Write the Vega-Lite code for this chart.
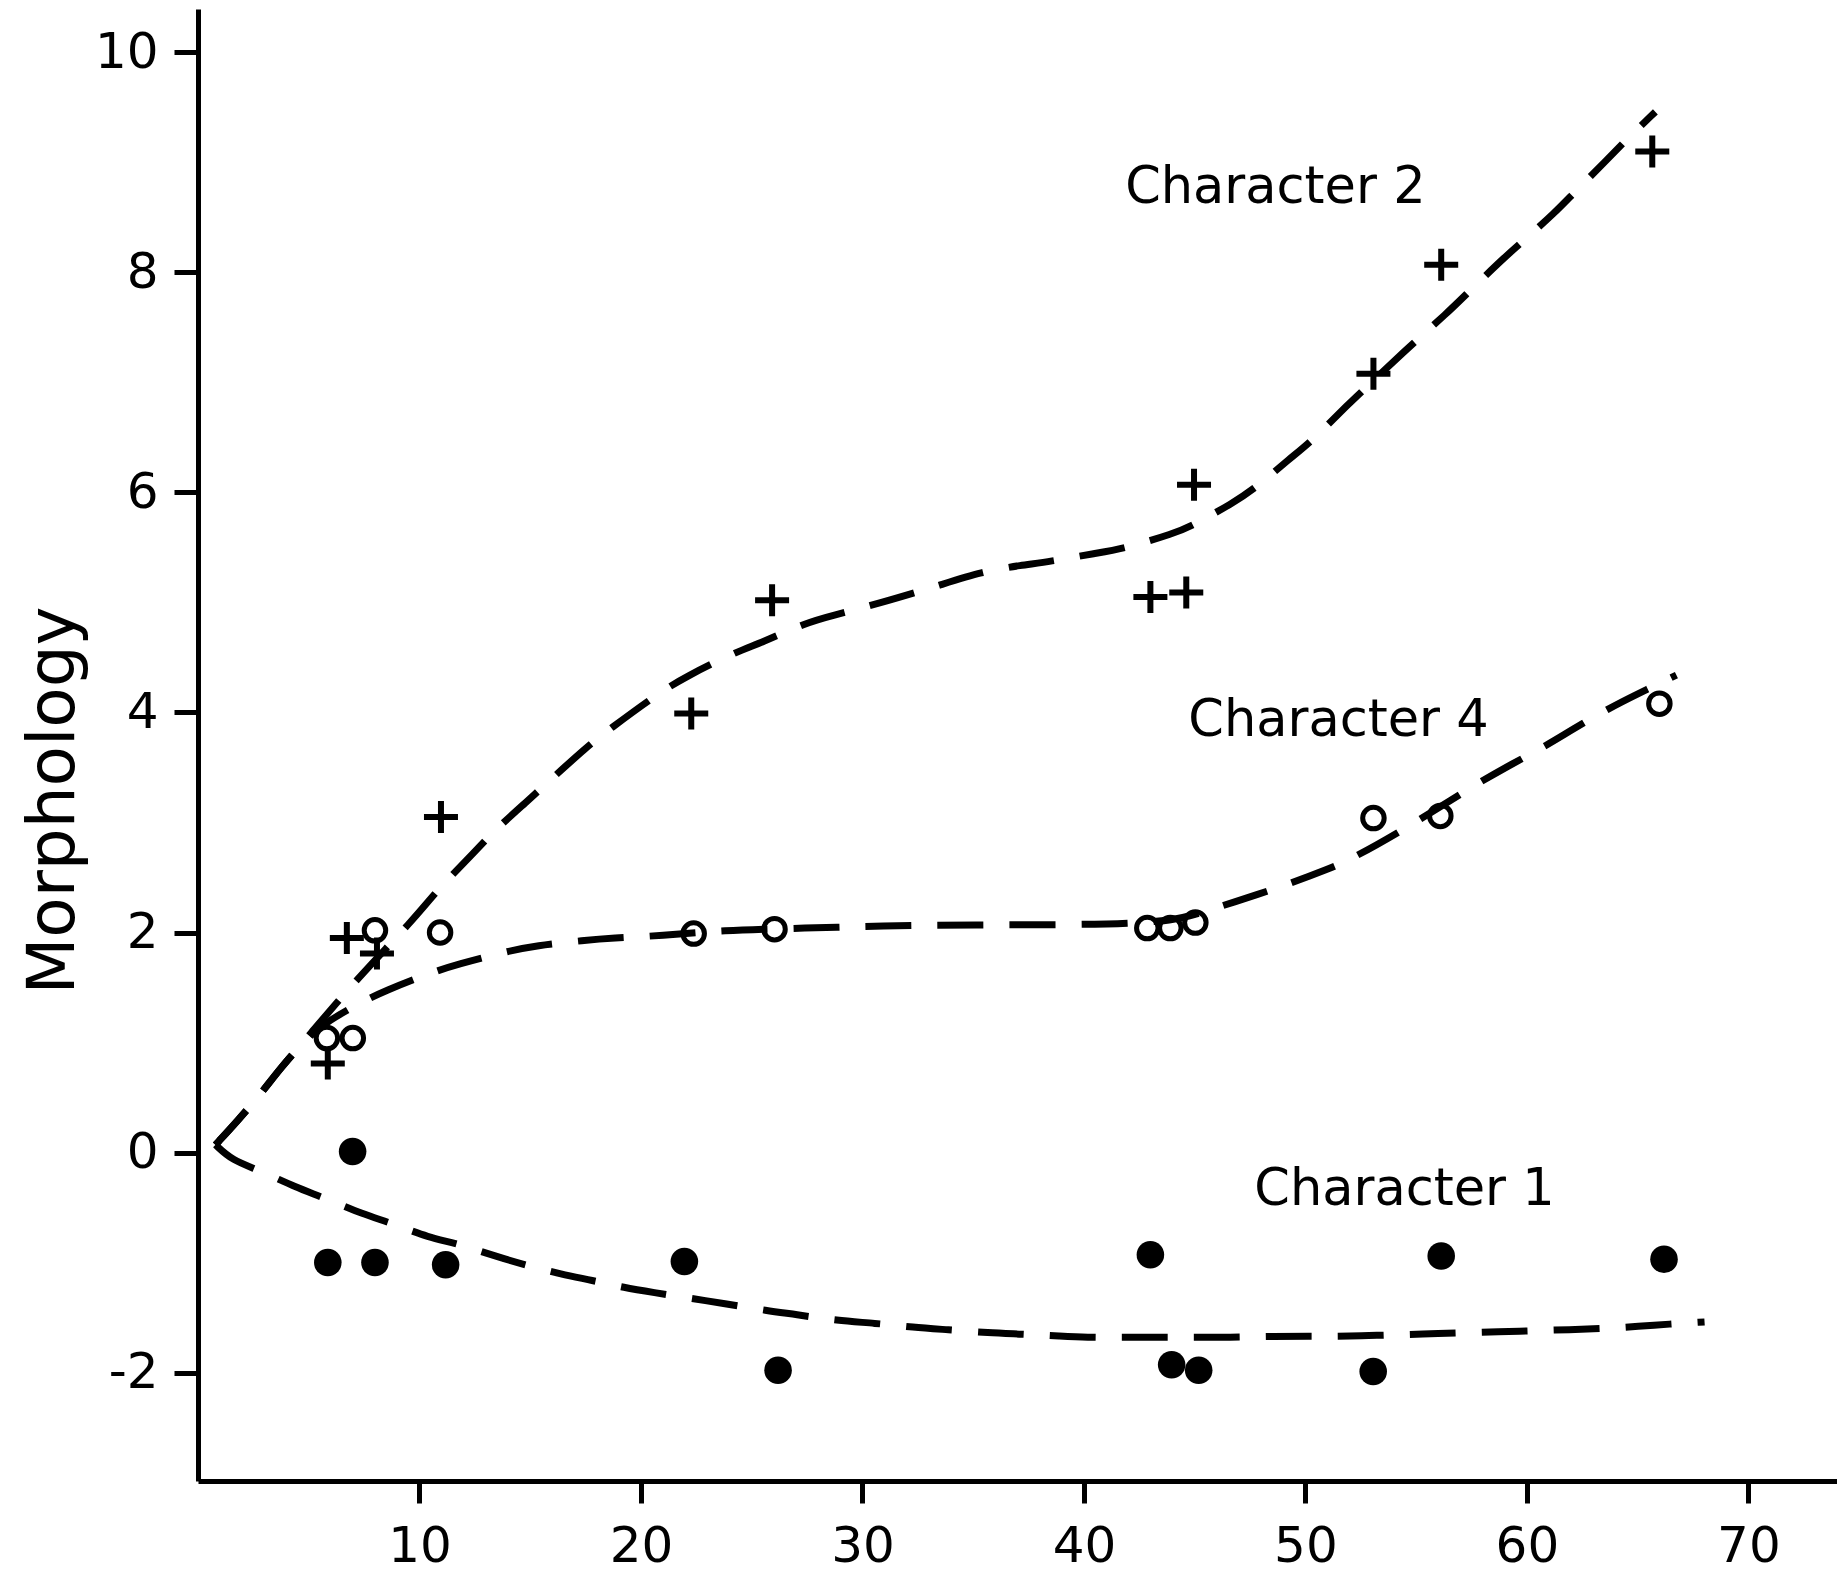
{
  "$schema": "https://vega.github.io/schema/vega-lite/v6.json",
  "autosize": {"type": "none"},
  "padding": {"left": 198, "top": 9, "right": 0, "bottom": 97},
  "width": 1639,
  "height": 1472,
  "background": "white",
  "config": {
    "view": {"stroke": null},
    "font": "DejaVu Sans",
    "axis": {
      "grid": false,
      "domainColor": "black",
      "domainWidth": 5,
      "tickColor": "black",
      "tickWidth": 5,
      "labelColor": "black",
      "labelFont": "DejaVu Sans",
      "labelFontSize": 50,
      "labelFontWeight": "normal",
      "titleColor": "black",
      "titleFont": "DejaVu Sans",
      "titleFontWeight": "normal"
    }
  },
  "datasets": {
    "curves": [
      {"curve": "Character 2", "x": 0.79, "y": 0.07},
      {"curve": "Character 2", "x": 1.8, "y": 0.29},
      {"curve": "Character 2", "x": 2.9, "y": 0.55},
      {"curve": "Character 2", "x": 3.69, "y": 0.76},
      {"curve": "Character 2", "x": 5.0, "y": 1.06},
      {"curve": "Character 2", "x": 7.04, "y": 1.55},
      {"curve": "Character 2", "x": 9.75, "y": 2.12},
      {"curve": "Character 2", "x": 10.77, "y": 2.38},
      {"curve": "Character 2", "x": 12.58, "y": 2.75},
      {"curve": "Character 2", "x": 13.29, "y": 2.91},
      {"curve": "Character 2", "x": 14.9, "y": 3.2},
      {"curve": "Character 2", "x": 15.71, "y": 3.35},
      {"curve": "Character 2", "x": 17.62, "y": 3.7},
      {"curve": "Character 2", "x": 18.53, "y": 3.84},
      {"curve": "Character 2", "x": 20.75, "y": 4.17},
      {"curve": "Character 2", "x": 22.06, "y": 4.33},
      {"curve": "Character 2", "x": 24.28, "y": 4.55},
      {"curve": "Character 2", "x": 25.38, "y": 4.63},
      {"curve": "Character 2", "x": 27.5, "y": 4.82},
      {"curve": "Character 2", "x": 28.61, "y": 4.88},
      {"curve": "Character 2", "x": 30.73, "y": 4.99},
      {"curve": "Character 2", "x": 33.38, "y": 5.15},
      {"curve": "Character 2", "x": 35.4, "y": 5.28},
      {"curve": "Character 2", "x": 37.2, "y": 5.34},
      {"curve": "Character 2", "x": 38.4, "y": 5.37},
      {"curve": "Character 2", "x": 40.6, "y": 5.45},
      {"curve": "Character 2", "x": 41.8, "y": 5.49},
      {"curve": "Character 2", "x": 44.1, "y": 5.63},
      {"curve": "Character 2", "x": 44.9, "y": 5.7},
      {"curve": "Character 2", "x": 46.7, "y": 5.9},
      {"curve": "Character 2", "x": 47.8, "y": 6.05},
      {"curve": "Character 2", "x": 49.3, "y": 6.31},
      {"curve": "Character 2", "x": 50.25, "y": 6.46},
      {"curve": "Character 2", "x": 51.5, "y": 6.72},
      {"curve": "Character 2", "x": 54.7, "y": 7.33},
      {"curve": "Character 2", "x": 56.4, "y": 7.63},
      {"curve": "Character 2", "x": 57.4, "y": 7.83},
      {"curve": "Character 2", "x": 59.0, "y": 8.14},
      {"curve": "Character 2", "x": 59.8, "y": 8.28},
      {"curve": "Character 2", "x": 61.3, "y": 8.55},
      {"curve": "Character 2", "x": 62.1, "y": 8.72},
      {"curve": "Character 2", "x": 63.6, "y": 9.02},
      {"curve": "Character 2", "x": 64.4, "y": 9.19},
      {"curve": "Character 2", "x": 65.8, "y": 9.46},
      {"curve": "Character 4", "x": 0.79, "y": 0.07},
      {"curve": "Character 4", "x": 1.8, "y": 0.29},
      {"curve": "Character 4", "x": 2.9, "y": 0.55},
      {"curve": "Character 4", "x": 3.69, "y": 0.76},
      {"curve": "Character 4", "x": 5.0, "y": 1.06},
      {"curve": "Character 4", "x": 5.91, "y": 1.2},
      {"curve": "Character 4", "x": 7.22, "y": 1.35},
      {"curve": "Character 4", "x": 8.44, "y": 1.47},
      {"curve": "Character 4", "x": 10.47, "y": 1.63},
      {"curve": "Character 4", "x": 11.69, "y": 1.71},
      {"curve": "Character 4", "x": 13.99, "y": 1.83},
      {"curve": "Character 4", "x": 15.21, "y": 1.88},
      {"curve": "Character 4", "x": 17.51, "y": 1.93},
      {"curve": "Character 4", "x": 18.64, "y": 1.95},
      {"curve": "Character 4", "x": 20.95, "y": 1.97},
      {"curve": "Character 4", "x": 23.57, "y": 2.02},
      {"curve": "Character 4", "x": 27.5, "y": 2.04},
      {"curve": "Character 4", "x": 30.8, "y": 2.06},
      {"curve": "Character 4", "x": 35.0, "y": 2.07},
      {"curve": "Character 4", "x": 40.0, "y": 2.07},
      {"curve": "Character 4", "x": 43.0, "y": 2.09},
      {"curve": "Character 4", "x": 44.5, "y": 2.13},
      {"curve": "Character 4", "x": 45.75, "y": 2.21},
      {"curve": "Character 4", "x": 48.05, "y": 2.36},
      {"curve": "Character 4", "x": 49.09, "y": 2.43},
      {"curve": "Character 4", "x": 51.07, "y": 2.58},
      {"curve": "Character 4", "x": 51.98, "y": 2.66},
      {"curve": "Character 4", "x": 54.06, "y": 2.89},
      {"curve": "Character 4", "x": 56.95, "y": 3.25},
      {"curve": "Character 4", "x": 57.4, "y": 3.31},
      {"curve": "Character 4", "x": 59.12, "y": 3.51},
      {"curve": "Character 4", "x": 60.97, "y": 3.71},
      {"curve": "Character 4", "x": 62.0, "y": 3.84},
      {"curve": "Character 4", "x": 63.72, "y": 4.04},
      {"curve": "Character 4", "x": 64.9, "y": 4.16},
      {"curve": "Character 4", "x": 66.75, "y": 4.34},
      {"curve": "Character 1", "x": 0.79, "y": 0.07},
      {"curve": "Character 1", "x": 1.53, "y": -0.07},
      {"curve": "Character 1", "x": 2.75, "y": -0.16},
      {"curve": "Character 1", "x": 4.46, "y": -0.32},
      {"curve": "Character 1", "x": 5.55, "y": -0.4},
      {"curve": "Character 1", "x": 7.58, "y": -0.57},
      {"curve": "Character 1", "x": 8.57, "y": -0.63},
      {"curve": "Character 1", "x": 10.51, "y": -0.78},
      {"curve": "Character 1", "x": 11.6, "y": -0.82},
      {"curve": "Character 1", "x": 13.54, "y": -0.95},
      {"curve": "Character 1", "x": 14.74, "y": -1.02},
      {"curve": "Character 1", "x": 16.45, "y": -1.11},
      {"curve": "Character 1", "x": 17.76, "y": -1.16},
      {"curve": "Character 1", "x": 19.28, "y": -1.23},
      {"curve": "Character 1", "x": 20.5, "y": -1.27},
      {"curve": "Character 1", "x": 22.39, "y": -1.33},
      {"curve": "Character 1", "x": 23.65, "y": -1.37},
      {"curve": "Character 1", "x": 25.78, "y": -1.44},
      {"curve": "Character 1", "x": 26.91, "y": -1.47},
      {"curve": "Character 1", "x": 28.9, "y": -1.53},
      {"curve": "Character 1", "x": 30.52, "y": -1.55},
      {"curve": "Character 1", "x": 32.33, "y": -1.59},
      {"curve": "Character 1", "x": 33.8, "y": -1.61},
      {"curve": "Character 1", "x": 35.76, "y": -1.64},
      {"curve": "Character 1", "x": 37.07, "y": -1.65},
      {"curve": "Character 1", "x": 39.04, "y": -1.67},
      {"curve": "Character 1", "x": 40.01, "y": -1.68},
      {"curve": "Character 1", "x": 42.0, "y": -1.68},
      {"curve": "Character 1", "x": 43.13, "y": -1.68},
      {"curve": "Character 1", "x": 45.25, "y": -1.68},
      {"curve": "Character 1", "x": 46.41, "y": -1.68},
      {"curve": "Character 1", "x": 48.7, "y": -1.67},
      {"curve": "Character 1", "x": 50.01, "y": -1.67},
      {"curve": "Character 1", "x": 52.14, "y": -1.67},
      {"curve": "Character 1", "x": 53.45, "y": -1.66},
      {"curve": "Character 1", "x": 55.41, "y": -1.65},
      {"curve": "Character 1", "x": 56.72, "y": -1.64},
      {"curve": "Character 1", "x": 58.84, "y": -1.63},
      {"curve": "Character 1", "x": 60.15, "y": -1.62},
      {"curve": "Character 1", "x": 61.96, "y": -1.61},
      {"curve": "Character 1", "x": 63.45, "y": -1.6},
      {"curve": "Character 1", "x": 65.08, "y": -1.58},
      {"curve": "Character 1", "x": 66.39, "y": -1.56},
      {"curve": "Character 1", "x": 68.02, "y": -1.54}
    ],
    "points": [
      {"character": "Character 2", "x": 5.86, "y": 0.81},
      {"character": "Character 2", "x": 6.72, "y": 1.95},
      {"character": "Character 2", "x": 8.08, "y": 1.81},
      {"character": "Character 2", "x": 10.97, "y": 3.05},
      {"character": "Character 2", "x": 22.27, "y": 3.99},
      {"character": "Character 2", "x": 25.92, "y": 5.02},
      {"character": "Character 2", "x": 43.0, "y": 5.05},
      {"character": "Character 2", "x": 44.62, "y": 5.09},
      {"character": "Character 2", "x": 44.97, "y": 6.07},
      {"character": "Character 2", "x": 53.07, "y": 7.08},
      {"character": "Character 2", "x": 56.13, "y": 8.07},
      {"character": "Character 2", "x": 65.66, "y": 9.1},
      {"character": "Character 4", "x": 5.82, "y": 1.04},
      {"character": "Character 4", "x": 6.99, "y": 1.04},
      {"character": "Character 4", "x": 7.99, "y": 2.02},
      {"character": "Character 4", "x": 10.93, "y": 2.0},
      {"character": "Character 4", "x": 22.38, "y": 1.99},
      {"character": "Character 4", "x": 26.03, "y": 2.03},
      {"character": "Character 4", "x": 42.86, "y": 2.04},
      {"character": "Character 4", "x": 43.9, "y": 2.04},
      {"character": "Character 4", "x": 45.03, "y": 2.09},
      {"character": "Character 4", "x": 53.07, "y": 3.04},
      {"character": "Character 4", "x": 56.09, "y": 3.06},
      {"character": "Character 4", "x": 65.98, "y": 4.08},
      {"character": "Character 1", "x": 5.86, "y": -1.0},
      {"character": "Character 1", "x": 6.98, "y": 0.01},
      {"character": "Character 1", "x": 7.99, "y": -1.0},
      {"character": "Character 1", "x": 11.18, "y": -1.02},
      {"character": "Character 1", "x": 21.96, "y": -0.99},
      {"character": "Character 1", "x": 26.19, "y": -1.98},
      {"character": "Character 1", "x": 43.0, "y": -0.93},
      {"character": "Character 1", "x": 43.96, "y": -1.93},
      {"character": "Character 1", "x": 45.18, "y": -1.98},
      {"character": "Character 1", "x": 53.06, "y": -1.99},
      {"character": "Character 1", "x": 56.13, "y": -0.94},
      {"character": "Character 1", "x": 66.19, "y": -0.97}
    ],
    "labels": [
      {"label": "Character 2", "x": 41.86, "y": 8.63},
      {"label": "Character 4", "x": 44.71, "y": 3.79},
      {"label": "Character 1", "x": 47.69, "y": -0.48}
    ]
  },
  "encoding": {
    "x": {
      "field": "x",
      "type": "quantitative",
      "scale": {"domain": [0, 74.0], "nice": false, "zero": false},
      "axis": {
        "title": null,
        "values": [10, 20, 30, 40, 50, 60, 70],
        "tickSize": 22,
        "labelPadding": 18,
        "labelDx": 5,
        "labelFlush": false,
        "labelOverlap": false
      }
    },
    "y": {
      "field": "y",
      "type": "quantitative",
      "scale": {"domain": [-2.986, 10.395], "nice": false, "zero": false},
      "axis": {
        "title": "Morphology",
        "titleFontSize": 66,
        "titleX": -125,
        "titleY": 791,
        "titleBaseline": "alphabetic",
        "titleAngle": -90,
        "titleAlign": "center",
        "values": [-2, 0, 2, 4, 6, 8, 10],
        "labelExpr": "datum.value < 0 ? '-' + abs(datum.value) : '' + datum.value",
        "tickSize": 24,
        "labelPadding": 16,
        "labelFlush": false,
        "labelOverlap": false
      }
    }
  },
  "layer": [
    {
      "data": {"name": "curves"},
      "mark": {
        "type": "line",
        "color": "black",
        "strokeWidth": 7,
        "strokeDash": [46, 26],
        "interpolate": "basis",
        "clip": false
      },
      "encoding": {"detail": {"field": "curve", "type": "nominal"}}
    },
    {
      "data": {"name": "points"},
      "transform": [{"filter": "datum.character === 'Character 1'"}],
      "mark": {"type": "point", "shape": "circle", "filled": true, "color": "black", "size": 760, "opacity": 1}
    },
    {
      "data": {"name": "points"},
      "transform": [{"filter": "datum.character === 'Character 4'"}],
      "mark": {"type": "point", "shape": "circle", "filled": false, "stroke": "black", "fill": "white", "fillOpacity": 0, "strokeWidth": 5, "size": 462, "opacity": 1}
    },
    {
      "data": {"name": "points"},
      "transform": [{"filter": "datum.character === 'Character 2'"}],
      "mark": {"type": "point", "shape": "M-1,0H1M0,-0.94V0.94", "filled": false, "stroke": "black", "strokeWidth": 6, "size": 1156, "opacity": 1}
    },
    {
      "data": {"name": "labels"},
      "mark": {"type": "text", "align": "left", "baseline": "alphabetic", "font": "DejaVu Sans", "fontSize": 51, "color": "black"},
      "encoding": {"text": {"field": "label", "type": "nominal"}}
    }
  ]
}
